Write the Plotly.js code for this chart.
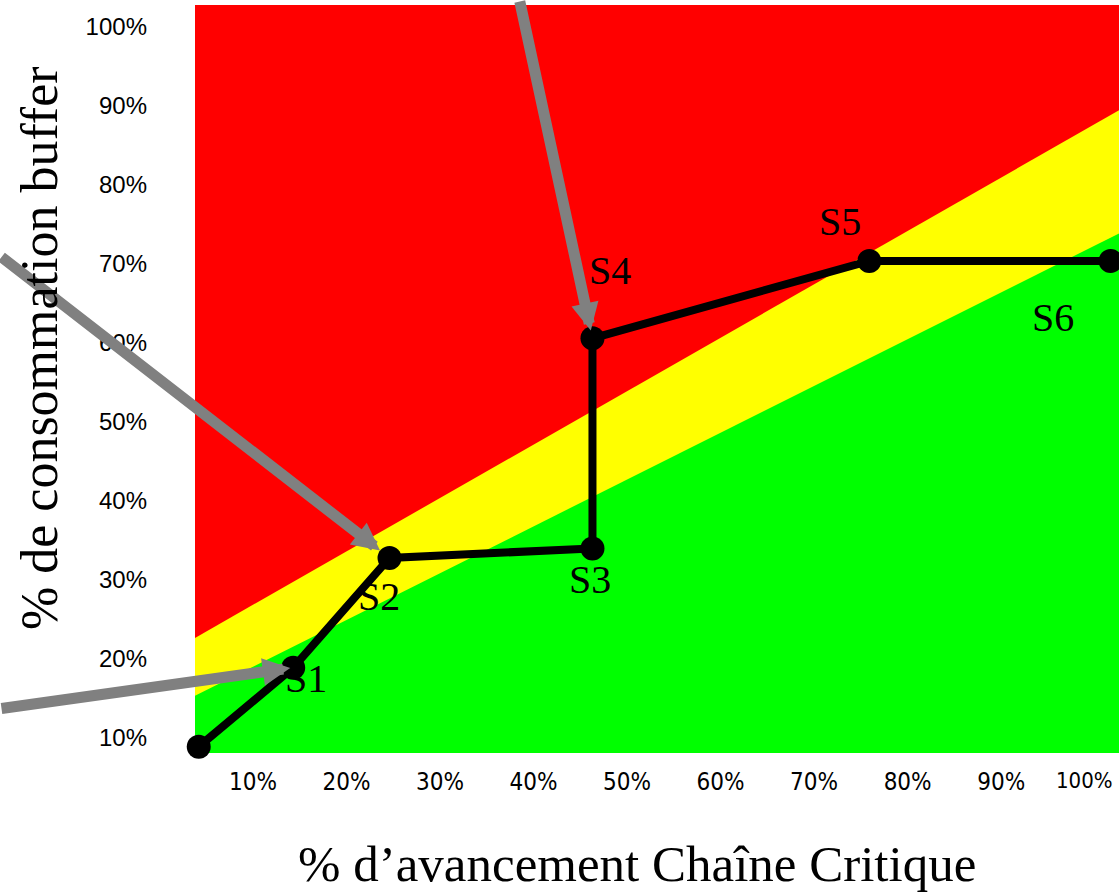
<!DOCTYPE html>
<html>
<head>
<meta charset="utf-8">
<script src="https://cdn.plot.ly/plotly-3.0.1.min.js"></script>
<style>
  html, body { margin: 0; padding: 0; background: #ffffff; }
  #chart { width: 1119px; height: 893px; }
</style>
</head>
<body>
<div id="chart"></div>
<script>
// Status points: critical-chain progress (%) and buffer consumption (%)
const stageLabels = ['', 'S1', 'S2', 'S3', 'S4', 'S5', 'S6'];
const chainProgress = [4.2, 14.3, 24.6, 46.3, 46.3, 75.9, 101.7];
const bufferUsed = [8.8, 18.8, 32.7, 33.9, 60.5, 70.3, 70.3];

// Zone limits (buffer consumption %) at both ends of the progress scale
const zoneProgress = [0, 105];
const redZoneStart = [20.0, 91.0];
const yellowZoneStart = [13.0, 75.2];

// Axis ticks
const tickValues = [10, 20, 30, 40, 50, 60, 70, 80, 90, 100];
const tickText = ['10%', '20%', '30%', '40%', '50%', '60%', '70%', '80%', '90%', '100%'];

// Status points with a callout arrow
const calloutStages = ['S1', 'S2', 'S4'];

// ---- styling ----
const RED = '#ff0000', YELLOW = '#ffff00', GREEN = '#00ff00';
const serif = 'Liberation Serif, Times New Roman, serif';
const sans = 'Liberation Sans, Arial, sans-serif';
const sansNarrow = 'Liberation Sans Narrow, DejaVu Sans Condensed, Arial Narrow, Liberation Sans, sans-serif';

// The last x label sits against the right edge of the figure, so it is
// written as an annotation nudged left instead of as an axis tick label.
const lastTick = tickValues.length - 1;
const xTickVals = tickValues.slice(0, lastTick);
const xTickText = tickText.slice(0, lastTick);

// label offsets in px [x, y] (y up) from each point
const labelShift = {
  S1: [13, -11], S2: [-11, -39], S3: [-2, -31],
  S4: [18, 68], S5: [-29, 39], S6: [-58, -57]
};
// arrow tails (px offsets from the point) and tip standoff
const calloutStyle = {
  S1: { ax: -313, ay: 41, standoff: 3 },
  S2: { ax: -410, ay: -302, standoff: 12 },
  S4: { ax: -73, ay: -368, standoff: 8 }
};

const traces = [
  { // yellow band (below the red zone)
    x: zoneProgress, y: redZoneStart, mode: 'lines', line: { width: 0 },
    fill: 'tozeroy', fillcolor: YELLOW, hoverinfo: 'skip', showlegend: false
  },
  { // green zone
    x: zoneProgress, y: yellowZoneStart, mode: 'lines', line: { width: 0 },
    fill: 'tozeroy', fillcolor: GREEN, hoverinfo: 'skip', showlegend: false
  },
  { // project trajectory
    x: chainProgress, y: bufferUsed, mode: 'lines+markers',
    line: { color: '#000000', width: 8 },
    marker: { color: '#000000', size: 24 },
    cliponaxis: false, showlegend: false, hoverinfo: 'skip'
  }
];

const annotations = [];

// stage labels
stageLabels.forEach((lab, i) => {
  if (!lab) return;
  const s = labelShift[lab] || [0, 0];
  annotations.push({
    x: chainProgress[i], y: bufferUsed[i], xref: 'x', yref: 'y',
    text: lab, showarrow: false, xshift: s[0], yshift: s[1],
    font: { family: serif, size: 40, color: '#000000' }
  });
});

// callout arrows
calloutStages.forEach(lab => {
  const i = stageLabels.indexOf(lab);
  const c = calloutStyle[lab];
  annotations.push({
    x: chainProgress[i], y: bufferUsed[i], xref: 'x', yref: 'y',
    text: '', showarrow: true, ax: c.ax, ay: c.ay,
    arrowhead: 2, arrowsize: 0.5, arrowwidth: 11, arrowcolor: '#808080',
    standoff: c.standoff
  });
});

// last x tick label
annotations.push({
  x: tickValues[lastTick], y: 0, xref: 'x', yref: 'paper',
  text: tickText[lastTick], showarrow: false,
  xanchor: 'center', yanchor: 'top', xshift: -10, yshift: -13,
  font: { family: sansNarrow, size: 22, color: '#000000' }
});

// axis titles
annotations.push({
  xref: 'paper', yref: 'paper', x: 0.478, y: -0.148,
  xanchor: 'center', yanchor: 'middle', showarrow: false,
  text: '% d’avancement Chaîne Critique',
  font: { family: serif, size: 51, color: '#000000' }
});
annotations.push({
  xref: 'paper', yref: 'paper', x: -0.168, y: 0.541,
  xanchor: 'center', yanchor: 'middle', showarrow: false, textangle: -90,
  text: '% de consommation buffer',
  font: { family: serif, size: 52, color: '#000000' }
});

const layout = {
  width: 1119, height: 893,
  margin: { l: 195, r: 0, t: 5, b: 140 },
  paper_bgcolor: '#ffffff',
  plot_bgcolor: RED,
  xaxis: {
    range: [3.8, 102.6], tickvals: xTickVals, ticktext: xTickText,
    showgrid: false, zeroline: false, showline: false, ticks: '',
    ticklabelstandoff: 12,
    tickfont: { family: sansNarrow, size: 24, color: '#000000' }
  },
  yaxis: {
    range: [8.0, 102.7], tickvals: tickValues, ticktext: tickText,
    showgrid: false, zeroline: false, showline: false, ticks: '',
    ticklabelstandoff: 47,
    tickfont: { family: sans, size: 24, color: '#000000' }
  },
  annotations: annotations,
  showlegend: false
};

Plotly.newPlot('chart', traces, layout, { staticPlot: true, displayModeBar: false });
</script>
</body>
</html>
